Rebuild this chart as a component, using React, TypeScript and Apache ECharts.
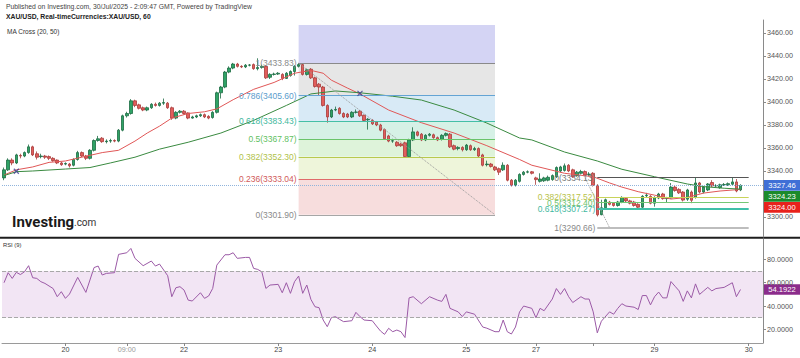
import React, { useEffect, useRef } from 'react';
import * as echarts from 'echarts';

// [open, close, low, high] hourly candles
const candles: number[][] = [
  [3334, 3341, 3332, 3343], [3341, 3349.5, 3340, 3351], [3349.5, 3347, 3345, 3351], [3347, 3354, 3346, 3355],
  [3353.5, 3353, 3351, 3355], [3353, 3356, 3352, 3357], [3356, 3361, 3355, 3363], [3361, 3354, 3353, 3362],
  [3355, 3352, 3350, 3357], [3352.5, 3353, 3351, 3355], [3353, 3352, 3350.5, 3354], [3352.5, 3351, 3349.5, 3353.5],
  [3351, 3349, 3348, 3352], [3349.5, 3347, 3346, 3350], [3347, 3345.5, 3344.5, 3348], [3346, 3346.5, 3345, 3347.5],
  [3346, 3344.5, 3343, 3347], [3345, 3350, 3344, 3351], [3350, 3356, 3349, 3357.5], [3356, 3353, 3352, 3357],
  [3353, 3351, 3349.5, 3354], [3351, 3358, 3350, 3359], [3358, 3366.5, 3357, 3367.5], [3366.5, 3368, 3365.5, 3370.5],
  [3368.5, 3365.5, 3364.5, 3369.5], [3365.5, 3366, 3364, 3367.5], [3366, 3366.5, 3364.5, 3368], [3366.5, 3366, 3365, 3367.5],
  [3366, 3375.5, 3365, 3376.5], [3375.5, 3388, 3374.5, 3389], [3388, 3390, 3386.5, 3391.5], [3390, 3401, 3389, 3402.5],
  [3401, 3397, 3395.5, 3402], [3397.5, 3394.5, 3393.5, 3398.5], [3395, 3393, 3392, 3396], [3393, 3395, 3392, 3396],
  [3395, 3398, 3394, 3399], [3398, 3397, 3396, 3399.5], [3397, 3399, 3396, 3400], [3399, 3399.5, 3397.5, 3403],
  [3399, 3395, 3394, 3400], [3395, 3386, 3384.5, 3396], [3386, 3391, 3385, 3392], [3391, 3392, 3390, 3393],
  [3392, 3390, 3389, 3393], [3390.5, 3386, 3385, 3391], [3386, 3387, 3385.5, 3388], [3387, 3388, 3386, 3389],
  [3388, 3389, 3387, 3390], [3389, 3387, 3386, 3390], [3387.5, 3386, 3385, 3388.5], [3386.5, 3391, 3385.5, 3392],
  [3391, 3408, 3390, 3409], [3408, 3413, 3403, 3414], [3413, 3426, 3412, 3427], [3426, 3429.5, 3425, 3431],
  [3429.5, 3433, 3428.5, 3434], [3433, 3431, 3430, 3434], [3431, 3430.5, 3429.5, 3432], [3430.5, 3432, 3429.5, 3433],
  [3432, 3432.2, 3431, 3433], [3432.5, 3429, 3428, 3433.5], [3429, 3430, 3427.5, 3438], [3430, 3431, 3429, 3432.5],
  [3431, 3421, 3420, 3432], [3421.5, 3424, 3420, 3425], [3424, 3424.3, 3423, 3425.5], [3424.3, 3425, 3423.5, 3426],
  [3424, 3420.5, 3419, 3425], [3420.5, 3425, 3420, 3426], [3423, 3426.5, 3422, 3427.5], [3426.5, 3431, 3423, 3432],
  [3431, 3432.5, 3430, 3433.83], [3432.5, 3424, 3423, 3433.5], [3424, 3428, 3423, 3429], [3428.5, 3421, 3420, 3429.5],
  [3421, 3413.5, 3412.5, 3422], [3415.5, 3413, 3405.5, 3416.5], [3413, 3397, 3396, 3414], [3397, 3387, 3382, 3398],
  [3387, 3393, 3386, 3394], [3393, 3393.5, 3392, 3396], [3394.5, 3390, 3389, 3395.5], [3390, 3387, 3386, 3391],
  [3389.5, 3387, 3386, 3390.5], [3387, 3391, 3386, 3392], [3391, 3391.3, 3390, 3393.5], [3392, 3388, 3387, 3393],
  [3388.5, 3384, 3383, 3389], [3384.5, 3385, 3376, 3386], [3384, 3381, 3380, 3385], [3382.5, 3380, 3379, 3383.5],
  [3380, 3375.5, 3374.5, 3381], [3376, 3368, 3367, 3377], [3370.5, 3366, 3365, 3371.5], [3366, 3366.3, 3364.5, 3368],
  [3365, 3362, 3361, 3366], [3363.5, 3362, 3361, 3364.5], [3364.5, 3352.5, 3351.5, 3365.5], [3352.5, 3367, 3352, 3368],
  [3367, 3374, 3366, 3378], [3374, 3371, 3370, 3375], [3372, 3367, 3366, 3373], [3367, 3371, 3366, 3372],
  [3371, 3372, 3370, 3373], [3371.5, 3369, 3368, 3372.5], [3369, 3367, 3366, 3370], [3367.5, 3371, 3366.5, 3372],
  [3371, 3372.5, 3370, 3373.5], [3372, 3361, 3360, 3373], [3362, 3359, 3358, 3363], [3359.5, 3360.5, 3358, 3361.5],
  [3360.5, 3358.5, 3357, 3361.5], [3358.5, 3362.5, 3357.5, 3363.5], [3362, 3358.5, 3357.5, 3363], [3358.5, 3359.5, 3357.5, 3361],
  [3359.5, 3353, 3352, 3360.5], [3354, 3345, 3344, 3355], [3345.5, 3346, 3344, 3349], [3346, 3344, 3343, 3347],
  [3343.5, 3341, 3340, 3344.5], [3342, 3339, 3336.5, 3343], [3341, 3345, 3340, 3347.5], [3345, 3332, 3331, 3346],
  [3332, 3327.5, 3326.5, 3333], [3327.5, 3332, 3326.5, 3333], [3331, 3337, 3330, 3338], [3337, 3339, 3336, 3340],
  [3339, 3339.3, 3338, 3340.5], [3339.3, 3338, 3337, 3340], [3334, 3332.5, 3328, 3335], [3331, 3333, 3330, 3338],
  [3331.5, 3334, 3330.5, 3335], [3332, 3334.5, 3331, 3336], [3332.5, 3336, 3331.5, 3337], [3335, 3343, 3334, 3344],
  [3340, 3343.5, 3339, 3344.5], [3340.5, 3344.5, 3339.5, 3346.5], [3345, 3340, 3339, 3346], [3341, 3335, 3334, 3342],
  [3336, 3339, 3335, 3340], [3338, 3339.5, 3337, 3341], [3339.5, 3336.5, 3335.5, 3340.5], [3337, 3337.3, 3335.5, 3339],
  [3338, 3327.5, 3326.5, 3339], [3327.5, 3301.9, 3300.5, 3328.5], [3302, 3308, 3301.5, 3315], [3308, 3315, 3307, 3316],
  [3313, 3311, 3310, 3314], [3312, 3310, 3309, 3313], [3310, 3313, 3309, 3314], [3313, 3317, 3312, 3318],
  [3316, 3314, 3313, 3317], [3314, 3312, 3311, 3315], [3313, 3310, 3309, 3314], [3311, 3308.5, 3306.5, 3312],
  [3308.5, 3318, 3307.5, 3319], [3318.5, 3319, 3317, 3321], [3318, 3312, 3311, 3319], [3312, 3317, 3309, 3318],
  [3316.5, 3320, 3315.5, 3321], [3320, 3316, 3315, 3321], [3316, 3316.3, 3313, 3317.5], [3316.5, 3326, 3316, 3329.5],
  [3326, 3323, 3322, 3327], [3324, 3321, 3320, 3325], [3321.7, 3314.7, 3313.5, 3322.5], [3315.5, 3323.5, 3314, 3324.5],
  [3321.7, 3314.5, 3312, 3323], [3317, 3329.6, 3316, 3334], [3329.6, 3321.7, 3320.5, 3330.5], [3321.7, 3326, 3320.5, 3327],
  [3323.5, 3328.7, 3322.5, 3329.5], [3330, 3327, 3326, 3332], [3327, 3327.3, 3326, 3328.5], [3325.5, 3328, 3324.5, 3329],
  [3328, 3328.3, 3327, 3329.5], [3328, 3329, 3327, 3330], [3328.5, 3330.5, 3327.5, 3334], [3330.5, 3322.6, 3321.5, 3333],
  [3323.5, 3327.46, 3322.5, 3328.5],
];

// [bar index, value]
const ma20: number[][] = [
  [0, 3336.5], [3, 3341], [7, 3343.5], [11, 3347.5], [15, 3348.7], [19, 3352], [24, 3356], [28, 3358], [32, 3366],
  [35, 3373], [38, 3379], [41, 3386], [45, 3390], [49, 3391.5], [52, 3394], [56, 3402], [61, 3411], [66, 3417],
  [71, 3425], [75, 3427.5], [78, 3425], [80, 3419], [84, 3412], [87, 3407], [94, 3393], [102, 3382], [110, 3373],
  [118, 3362], [126, 3350], [129, 3345], [137, 3338], [144, 3335], [148, 3329.6], [151, 3326], [155, 3322],
  [159, 3319], [163, 3315.6], [167, 3317], [171, 3320.8], [175, 3322.6], [180, 3324.0],
];
const ma50: number[][] = [
  [0, 3336], [3, 3339.4], [7, 3340], [15, 3341.7], [21, 3343], [26, 3347], [32, 3352], [38, 3359], [45, 3365],
  [53, 3373], [61, 3384], [69, 3397], [75, 3407], [81, 3409.6], [87, 3408], [95, 3405], [102, 3401.7], [110, 3393],
  [118, 3381.7], [126, 3368.7], [129, 3367], [137, 3356.5], [145, 3348.7], [151, 3341.5], [159, 3335], [167, 3328.7],
  [171, 3326.4], [176, 3325], [180, 3324.23],
];
const rsi: number[][] = [
  [0, 60], [1, 68.6], [2, 63.7], [3, 68.9], [4, 67], [5, 69.4], [6, 74.6], [7, 64.3], [8, 63.7], [9, 60.9], [10, 59.4],
  [12, 55], [13, 48], [14, 52.3], [15, 46.6], [16, 50.3], [18, 64.6], [20, 51.7], [22, 73], [23, 74.3], [24, 66.6],
  [25, 68], [27, 68.6], [28, 84.3], [30, 85.7], [31, 89.4], [32, 80.9], [34, 74.6], [36, 78.6], [37, 74.3], [38, 76],
  [40, 66], [41, 48], [42, 55.7], [43, 56.6], [44, 53.7], [45, 45.1], [46, 44.3], [48, 51.4], [49, 46.6], [50, 48.6],
  [51, 55.1], [52, 75.1], [54, 84], [55, 84], [56, 85.7], [57, 80.9], [59, 81.7], [60, 81.7], [61, 72.3], [62, 71.4],
  [63, 69.4], [64, 55.1], [65, 58], [67, 58.6], [68, 51.4], [69, 60], [70, 50.9], [71, 60.9], [72, 65.7], [73, 50.9],
  [74, 58], [75, 45.7], [76, 39.4], [77, 38.6], [78, 28], [79, 22.3], [80, 30], [81, 30.9], [82, 28.6], [83, 26.6],
  [85, 27.4], [86, 34.6], [87, 30.9], [88, 28], [90, 27.4], [91, 22.9], [92, 18.6], [93, 15.7], [94, 20.9], [95, 18],
  [96, 19.4], [97, 18], [98, 13], [99, 47], [100, 48], [102, 42], [104, 48], [106, 45], [107, 44], [108, 50],
  [109, 38], [111, 35], [112, 31], [113, 35], [115, 33], [117, 22], [118, 21], [120, 18], [121, 18], [122, 28],
  [123, 18], [124, 16], [125, 22], [126, 35], [127, 40], [129, 38], [130, 30], [131, 38], [132, 36], [134, 46],
  [135, 55], [136, 50], [137, 55], [138, 48], [139, 43], [141, 48], [142, 46], [143, 46], [144, 35], [145, 17],
  [146, 27], [148, 35], [149, 33], [150, 38], [151, 42], [152, 40], [154, 39], [155, 37], [156, 49], [157, 49],
  [158, 41], [159, 48], [160, 52], [161, 47], [162, 47], [163, 61], [164, 57], [165, 53], [166, 44], [167, 53],
  [168, 47], [169, 59], [170, 50], [171, 53], [172, 56], [173, 53], [174, 55], [176, 56], [178, 60], [179, 48],
  [180, 54.1922],
];
const crossPoints: number[][] = [[3, 3339.8], [87, 3407.5]];

const barSlots = 186;
const timeTickIdx = [15, 30, 44, 67, 90, 113, 130, 144, 159, 182];
const timeTickLabels = ['20', '09:00', '22', '23', '24', '25', '27', '', '29', '30'];
const priceTicks = [3300, 3340, 3360, 3380, 3400, 3420, 3440, 3460];
const rsiTicks = [20, 40, 60, 80];

const fib1Range = [72, 120];
const fib1Levels = ['1', '0.786', '0.618', '0.5', '0.382', '0.236', '0'];
const fib1Prices = [3433.83, 3405.6, 3383.43, 3367.87, 3352.3, 3333.04, 3301.9];
const fib1Top = 3467;
const fib2Range = [145, 182];
const fib2Levels = ['0', '0.382', '0.5', '0.618', '1'];
const fib2Prices = [3334.13, 3317.52, 3312.4, 3307.27, 3290.66];
const fib2Diag = [142, 148];

const lastPrice = 3327.46;
const ma50Last = 3324.23;
const ma20Last = 3324.0;
const rsiLast = 54.1922;

const FONT = '"Liberation Sans", Arial, sans-serif';

const fib1LineColors = ['#8a8a8a', '#64a4d4', '#45bfa6', '#6ac46a', '#b8c94e', '#e06a6a', '#a6a6a6'];
const fib1TextColors = ['#8a8a8a', '#5a9ccc', '#3fb89d', '#5fbf5f', '#b0c24a', '#d05a5a', '#8a8a8a'];
const fib1Bands = ['#d4d4f4', '#e6e6e6', '#d8eaf6', '#d6f1e6', '#def3da', '#eef5da', '#f7dddd'];
const fib2LineColors = ['#555555', '#c8d35a', '#74c874', '#3fc0a8', '#bdbdbd'];
const fib2LineWidths = [1, 1, 1, 2, 2];
const fib2TextColors = ['#777777', '#b8c24a', '#6cbf6c', '#3fb8a0', '#888888'];

export default function App() {
  const ref = useRef<HTMLDivElement>(null);
  useEffect(() => {
    document.body.style.margin = '0';
    if (!ref.current) return;
    const chart = echarts.init(ref.current, undefined, { renderer: 'svg' });
    const cats = Array.from({ length: barSlots }, (_, i) => String(i));
    const tickSet = new Set(timeTickIdx);
    const labelMap: Record<string, string> = {};
    timeTickIdx.forEach((t, i) => (labelMap[String(t)] = timeTickLabels[i]));

    const bandTops = [fib1Top, ...fib1Prices.slice(0, -1)];
    const fib1Area = fib1Bands.map((c, i) => [
      { xAxis: fib1Range[0], yAxis: bandTops[i], itemStyle: { color: c } },
      { xAxis: fib1Range[1], yAxis: fib1Prices[i] },
    ]);
    const fib1Lines: any[] = fib1Prices.map((p, i) => [
      {
        coord: [fib1Range[0], p],
        lineStyle: { color: fib1LineColors[i], width: 1, type: 'solid' },
        label: {
          show: true, position: 'start', distance: 2, formatter: `${fib1Levels[i]}(${p.toFixed(2)})`,
          color: fib1TextColors[i], fontSize: 8.5, fontFamily: FONT,
        },
      },
      { coord: [fib1Range[1], p] },
    ]);
    fib1Lines.push([
      { coord: [fib1Range[0], fib1Prices[0]], lineStyle: { color: '#9a9a9a', type: 'dotted', width: 1 }, label: { show: false } },
      { coord: [fib1Range[1], fib1Prices[fib1Prices.length - 1]] },
    ]);
    const fib2Lines: any[] = fib2Prices.map((p, i) => [
      {
        coord: [fib2Range[0], p],
        lineStyle: { color: fib2LineColors[i], width: fib2LineWidths[i], type: 'solid' },
        label: {
          show: true, position: 'start', distance: 2, formatter: `${fib2Levels[i]}(${p.toFixed(2)})`,
          color: fib2TextColors[i], fontSize: 8.5, fontFamily: FONT,
        },
      },
      { coord: [fib2Range[1], p] },
    ]);
    fib2Lines.push([
      { coord: [fib2Diag[0], fib2Prices[0]], lineStyle: { color: '#9a9a9a', type: 'dotted', width: 1 }, label: { show: false } },
      { coord: [fib2Diag[1], fib2Prices[fib2Prices.length - 1]] },
    ]);

    const option: any = {
      animation: false,
      textStyle: { fontFamily: FONT },
      grid: [
        { left: 2, right: 37, top: 20, height: 217 },
        { left: 2, right: 37, top: 239, height: 104 },
      ],
      xAxis: [
        { type: 'category', gridIndex: 0, data: cats, axisLine: { show: false }, axisTick: { show: false }, axisLabel: { show: false }, splitLine: { show: false } },
        {
          type: 'category', gridIndex: 1, data: cats,
          axisLine: { show: true, lineStyle: { color: '#9a9a9a', width: 1 } },
          axisTick: { show: true, alignWithLabel: true, length: 3, interval: (i: number) => tickSet.has(i), lineStyle: { color: '#888' } },
          axisLabel: {
            show: true, interval: (i: number) => tickSet.has(i), margin: 3, fontSize: 7.2, color: '#444',
            formatter: (v: string) => (labelMap[v] === '09:00' ? '{t|09:00}' : labelMap[v] || ''),
            rich: { t: { color: '#9a9a9a', fontSize: 7.2 } },
          },
          splitLine: { show: false },
        },
      ],
      yAxis: [
        {
          type: 'value', gridIndex: 0, position: 'right', min: 3282.6, max: 3471.3, scale: true,
          splitLine: { show: false },
          axisLine: { show: true, lineStyle: { color: '#8a8a8a' } },
          axisTick: { show: true, customValues: priceTicks, length: 3, lineStyle: { color: '#8a8a8a' } },
          axisLabel: { customValues: priceTicks, formatter: (v: number) => v.toFixed(2), fontSize: 7.2, color: '#555', margin: 4 },
        },
        {
          type: 'value', gridIndex: 1, position: 'right', min: 8.3, max: 97.5,
          splitLine: { show: false },
          axisLine: { show: true, lineStyle: { color: '#8a8a8a' } },
          axisTick: { show: true, customValues: rsiTicks, length: 3, lineStyle: { color: '#8a8a8a' } },
          axisLabel: { customValues: rsiTicks, formatter: (v: number) => v.toFixed(4), fontSize: 7.2, color: '#555', margin: 4 },
        },
      ],
      series: [
        {
          type: 'line', name: 'fib1', xAxisIndex: 0, yAxisIndex: 0, data: [], z: 1, silent: true,
          markArea: { silent: true, data: fib1Area },
          markLine: { silent: true, symbol: ['none', 'none'], data: fib1Lines },
        },
        {
          type: 'line', name: 'fib2', xAxisIndex: 0, yAxisIndex: 0, data: [], z: 1, silent: true,
          markLine: { silent: true, symbol: ['none', 'none'], data: fib2Lines },
        },
        {
          type: 'candlestick', name: 'XAU/USD', xAxisIndex: 0, yAxisIndex: 0, data: candles, z: 3, barWidth: 3,
          itemStyle: { color: '#2fa366', color0: '#e25d5b', borderColor: '#1c6b43', borderColor0: '#a83b3a', borderWidth: 0.8 },
          markLine: {
            silent: true, symbol: ['none', 'none'], label: { show: false },
            lineStyle: { color: '#90b4dc', type: 'dotted', width: 1 },
            data: [{ yAxis: lastPrice }],
          },
        },
        { type: 'line', name: 'MA20', xAxisIndex: 0, yAxisIndex: 0, data: ma20, showSymbol: false, z: 4, lineStyle: { color: '#e05757', width: 1 } },
        { type: 'line', name: 'MA50', xAxisIndex: 0, yAxisIndex: 0, data: ma50, showSymbol: false, z: 4, lineStyle: { color: '#3a8a40', width: 1 } },
        {
          type: 'scatter', name: 'cross', xAxisIndex: 0, yAxisIndex: 0, data: crossPoints, z: 5,
          symbol: 'path://M0,0L10,10M10,0L0,10', symbolSize: 5,
          itemStyle: { color: 'none', borderColor: '#3b3b8f', borderWidth: 1.2 },
        },
        {
          type: 'line', name: 'RSI', xAxisIndex: 1, yAxisIndex: 1, data: rsi, showSymbol: false, z: 4,
          lineStyle: { color: '#9b5aa6', width: 1 },
          markArea: { silent: true, data: [[{ yAxis: 70, itemStyle: { color: '#f2e5f4' } }, { yAxis: 30 }]] },
          markLine: {
            silent: true, symbol: ['none', 'none'], label: { show: false },
            lineStyle: { color: '#a8a8a8', type: 'dashed', width: 1 },
            data: [{ yAxis: 70 }, { yAxis: 30 }],
          },
        },
      ],
    };
    chart.setOption(option);

    const yLast = chart.convertToPixel({ yAxisIndex: 0 }, lastPrice) as number;
    const yRsi = chart.convertToPixel({ yAxisIndex: 1 }, rsiLast) as number;
    const tag = (y: number, fill: string, text: string) => ({
      type: 'group',
      children: [
        { type: 'rect', shape: { x: 764, y: y - 5.3, width: 36, height: 10.6 }, style: { fill } },
        { type: 'text', x: 782, y, style: { text, fill: '#fff', fontSize: 7.6, fontFamily: FONT, align: 'center', verticalAlign: 'middle' } },
      ],
    });
    chart.setOption({
      graphic: [
        { type: 'text', x: 6, y: 2.5, style: { text: 'Published on Investing.com, 30/Jul/2025 - 2:09:47 GMT, Powered by TradingView', fill: '#444', fontSize: 6.8, fontFamily: FONT } },
        { type: 'text', x: 6, y: 12.5, style: { text: 'XAU/USD, Real-timeCurrencies:XAU/USD, 60', fill: '#222', fontSize: 6.8, fontWeight: 'bold', fontFamily: FONT } },
        { type: 'text', x: 7, y: 28, style: { text: 'MA Cross (20, 50)', fill: '#333', fontSize: 6.5, fontFamily: FONT } },
        { type: 'text', x: 3, y: 242, style: { text: 'RSI (9)', fill: '#333', fontSize: 5.8, fontFamily: FONT } },
        { type: 'text', x: 12, y: 229, style: { text: 'Investing', fill: '#1a1a1a', fontSize: 15, fontWeight: 'bold', fontFamily: 'Roboto, "Liberation Sans", sans-serif', verticalAlign: 'bottom' } },
        { type: 'text', x: 74, y: 227.5, style: { text: '.com', fill: '#333', fontSize: 10, fontFamily: 'Roboto, "Liberation Sans", sans-serif', verticalAlign: 'bottom' } },
        { type: 'line', shape: { x1: 0, y1: 237.8, x2: 800, y2: 237.8 }, style: { stroke: '#1e1e1e', lineWidth: 2 } },
        tag(yLast, '#3f6fd6', lastPrice.toFixed(2)),
        tag(yLast + 11, '#1b8a2b', ma50Last.toFixed(2)),
        tag(yLast + 22, '#e8221c', ma20Last.toFixed(2)),
        tag(yRsi, '#8b2c8b', rsiLast.toFixed(4)),
      ],
    });
    return () => chart.dispose();
  }, []);
  return <div ref={ref} style={{ width: 800, height: 358 }} />;
}
